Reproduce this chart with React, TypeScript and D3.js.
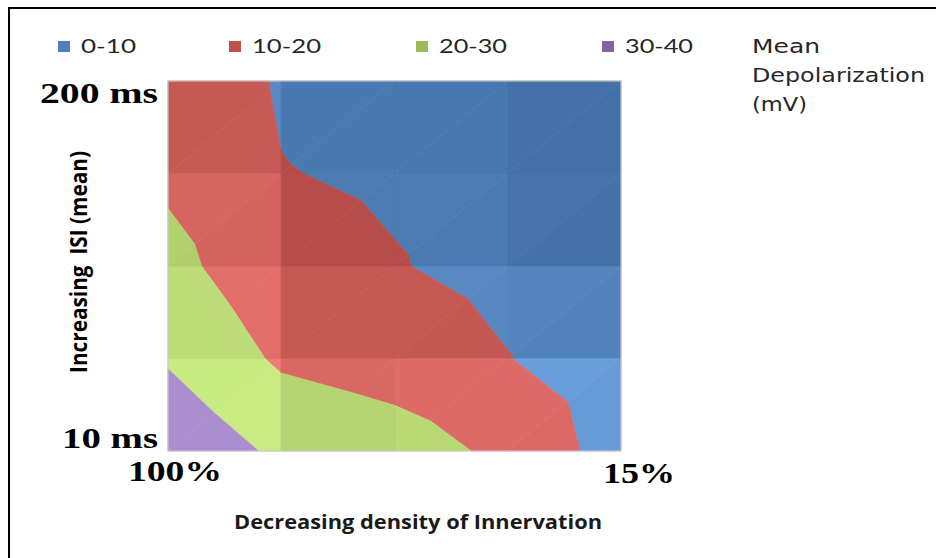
import React from "react";
import * as d3 from "d3";

// axis end labels
const densityLabels = ["100%", "15%"];
const isiLabels = ["200 ms", "10 ms"];

// legend bands (mV)
const bandLabels = ["0-10", "10-20", "20-30", "30-40"];
const bandThresholds = [0, 10, 20, 30, 40];
const bandColors = ["#4f81bd", "#c0504d", "#9bbb59", "#8064a2"];

// mean depolarization, one row per ISI step (200 ms at the top, 10 ms at the bottom),
// columns go from 100% density to 15%
const isi200ms = [18, 9.1, 7, 6, 5.5];
const isiStep2 = [18.2, 10.3, 8.8, 6.5, 5.5];
const isiStep3 = [23, 12.9, 10.5, 7.1, 3];
const isiStep4 = [29, 18.5, 15.3, 10.3, 3.1];
const isi10ms = [38, 28, 24.6, 17.8, 5.6];
const grid = [isi200ms, isiStep2, isiStep3, isiStep4, isi10ms];

type P = { c: number; r: number; z: number };

function clip(poly: P[], level: number, above: boolean): P[] {
  const out: P[] = [];
  for (let i = 0; i < poly.length; i++) {
    const a = poly[i];
    const b = poly[(i + 1) % poly.length];
    const ina = above ? a.z >= level : a.z <= level;
    const inb = above ? b.z >= level : b.z <= level;
    if (ina) out.push(a);
    if (ina !== inb) {
      const t = (level - a.z) / (b.z - a.z);
      out.push({ c: a.c + t * (b.c - a.c), r: a.r + t * (b.r - a.r), z: level });
    }
  }
  return out;
}

// Excel-like facet lighting: brighter where the surface tilts toward the light
function shade(base: string, gc: number, gr: number) {
  let t = 0.0544 * gc + 0.0648 * gr - 0.188;
  t = Math.max(-0.15, Math.min(1.15, t));
  const c = d3.rgb(base);
  const k = 0.93 + 0.15 * t;
  const add = 35 * t;
  return d3
    .rgb(Math.min(255, c.r * k + add), Math.min(255, c.g * k + add), Math.min(255, c.b * k + add))
    .formatHex();
}

const App: React.FC = () => {
  const nRows = grid.length;
  const nCols = grid[0].length;
  const x = d3.scaleLinear().domain([0, nCols - 1]).range([168, 621]);
  const y = d3.scaleLinear().domain([0, nRows - 1]).range([81, 451]);

  const facets: { d: string; fill: string }[] = [];
  for (let r = 0; r < nRows - 1; r++) {
    for (let c = 0; c < nCols - 1; c++) {
      const tl = { c, r, z: grid[r][c] };
      const tr = { c: c + 1, r, z: grid[r][c + 1] };
      const bl = { c, r: r + 1, z: grid[r + 1][c] };
      const br = { c: c + 1, r: r + 1, z: grid[r + 1][c + 1] };
      const tris = [
        { pts: [tl, tr, bl], gc: tl.z - tr.z, gr: bl.z - tl.z },
        { pts: [tr, br, bl], gc: bl.z - br.z, gr: br.z - tr.z },
      ];
      tris.forEach((tri) => {
        for (let i = 0; i < bandColors.length; i++) {
          let poly = clip(tri.pts, bandThresholds[i], true);
          if (poly.length < 3) continue;
          poly = clip(poly, bandThresholds[i + 1], false);
          if (poly.length < 3) continue;
          const line = d3.line<P>().x((p) => x(p.c)).y((p) => y(p.r));
          facets.push({ d: line(poly) + "Z", fill: shade(bandColors[i], tri.gc, tri.gr) });
        }
      });
    }
  }

  const legendX = [58, 229, 416, 602];
  const legendTextW = [55, 69, 68, 68];

  return (
    <svg
      width={936}
      height={558}
      style={{ position: "absolute", left: 0, top: 0, background: "#fff" }}
    >
      <line x1={8} y1={8} x2={936} y2={8} stroke="#000" strokeWidth={2} />
      <line x1={9} y1={8} x2={9} y2={558} stroke="#000" strokeWidth={2} />

      {bandLabels.map((lab, i) => (
        <g key={lab}>
          <rect x={legendX[i]} y={41} width={12} height={11} fill={bandColors[i]} />
          <text
            x={legendX[i] + 23}
            y={53}
            fontFamily="Lato, 'Open Sans', sans-serif"
            fontSize={19}
            fill="#262626"
            textLength={legendTextW[i]}
            lengthAdjust="spacingAndGlyphs"
          >
            {lab}
          </text>
        </g>
      ))}
      <g fontFamily="'DejaVu Sans', Verdana, sans-serif" fontSize={19} fill="#262626">
        <text x={752} y={53} textLength={68} lengthAdjust="spacingAndGlyphs">Mean</text>
        <text x={752} y={82} textLength={173} lengthAdjust="spacingAndGlyphs">Depolarization</text>
        <text x={752} y={111} textLength={55} lengthAdjust="spacingAndGlyphs">(mV)</text>
      </g>

      <g>
        {facets.map((f, i) => (
          <path key={i} d={f.d} fill={f.fill} stroke={f.fill} strokeWidth={0.6} strokeLinejoin="round" />
        ))}
      </g>
      <g stroke="#000" strokeOpacity={0.05}>
        {d3.range(1, nCols - 1).map((c) => (
          <line key={"c" + c} x1={x(c)} x2={x(c)} y1={y(0)} y2={y(nRows - 1)} />
        ))}
        {d3.range(1, nRows - 1).map((r) => (
          <line key={"r" + r} x1={x(0)} x2={x(nCols - 1)} y1={y(r)} y2={y(r)} />
        ))}
      </g>
      <rect
        x={x(0)}
        y={y(0)}
        width={x(nCols - 1) - x(0)}
        height={y(nRows - 1) - y(0)}
        fill="none"
        stroke="#c9c9c9"
        strokeWidth={1.2}
      />

      <g fontFamily="'Liberation Serif', 'Times New Roman', serif" fontWeight="bold" fontSize={30} fill="#000">
        <text x={40} y={103} textLength={118} lengthAdjust="spacingAndGlyphs">{isiLabels[0]}</text>
        <text x={62} y={448} textLength={96} lengthAdjust="spacingAndGlyphs">{isiLabels[1]}</text>
        <text x={128} y={481} textLength={94} lengthAdjust="spacingAndGlyphs">{densityLabels[0]}</text>
        <text x={603} y={483} textLength={72} lengthAdjust="spacingAndGlyphs">{densityLabels[1]}</text>
      </g>

      <text
        transform="translate(87,262) rotate(-90) scale(1,1.35)"
        textAnchor="middle"
        fontFamily="'Open Sans', Lato, sans-serif"
        fontWeight="bold"
        fontSize={17}
        fill="#000"
        textLength={222}
        lengthAdjust="spacingAndGlyphs"
        style={{ whiteSpace: "pre" }}
      >
        {"Increasing  ISI (mean)"}
      </text>
      <text
        x={234}
        y={529}
        fontFamily="'Open Sans', Lato, sans-serif"
        fontWeight="bold"
        fontSize={20}
        fill="#1a1a1a"
        textLength={368}
        lengthAdjust="spacingAndGlyphs"
      >
        Decreasing density of Innervation
      </text>
    </svg>
  );
};

export default App;
